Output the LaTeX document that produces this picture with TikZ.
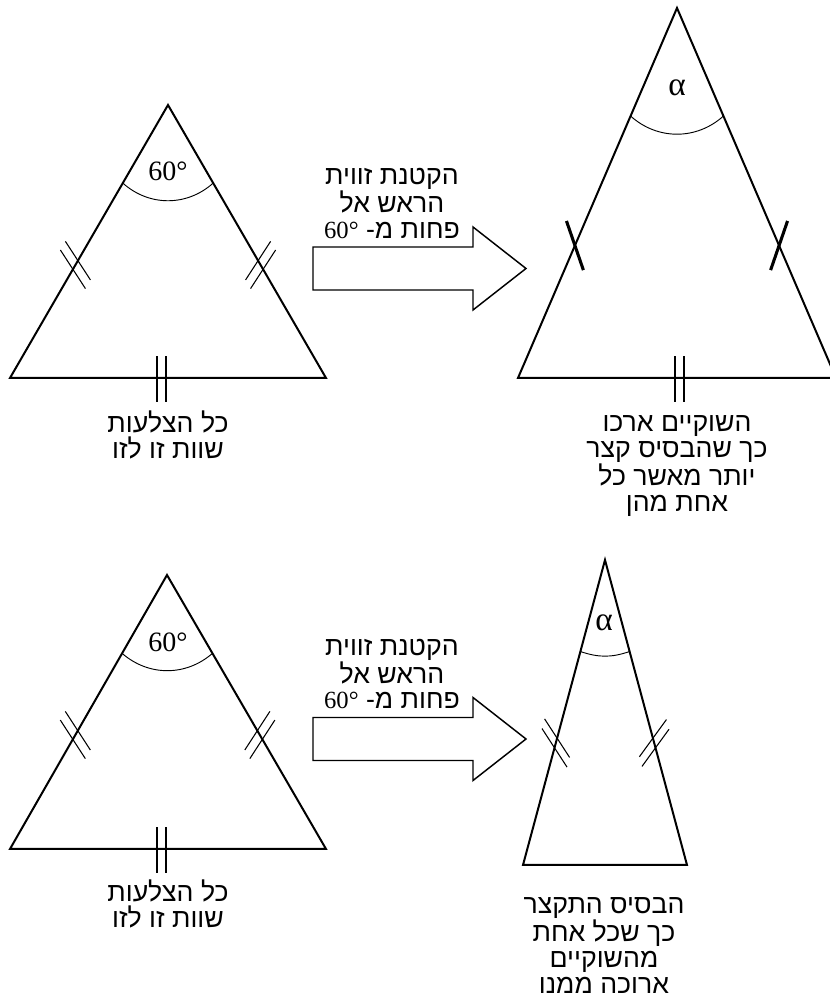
\documentclass[tikz,border=0pt]{standalone}
\usepackage{fontspec}
\setmainfont{Liberation Serif}
\newfontfamily\hebfont[Script=Hebrew]{Liberation Sans}
\TeXXeTstate=1
\usetikzlibrary{calc}
\tikzset{
  tri/.style     ={line width=1.5pt, line join=miter},
  tickmark/.style={line width=0.8pt},
  boldtick/.style={line width=2.3pt},
  anglearc/.style={line width=0.7pt},
  blockarr/.style={line width=1.1pt, line join=miter},
  heb/.style     ={font=\hebfont\fontsize{20}{19.3}\selectfont,
                   align=center, inner sep=0pt},
  anglelbl/.style={font=\fontsize{21}{24}\selectfont, inner sep=0pt},
  alphalbl/.style={font=\fontsize{25}{28}\selectfont, inner sep=0pt},
}
% two short parallel marks across a side
\newcommand\dticks[3]{%
  \foreach \s in {-5,5}
    \draw[tickmark] ($(#1)+(#2:\s)+(#3:-23)$) -- ++(#3:46);}
\newcommand\degsixty{{\rmfamily\fontsize{18.5}{19}\selectfont\beginL 60°\endL}}

\begin{document}
\begin{tikzpicture}[x=0.75pt,y=0.75pt]
  \useasboundingbox (0,0) rectangle (829,1003);
  %% top left: equilateral triangle
  \coordinate (a1) at (168,898);
  \coordinate (b1) at (10,625);
  \coordinate (c1) at (326,625);
  \draw[tri] (a1) -- (b1) -- (c1) -- cycle;
  \draw[anglearc] ($(a1)!0.286!(b1)$) to[bend right=42] ($(a1)!0.286!(c1)$);
  \node[anglelbl] (ang1) at (168,832) {60°};
  \coordinate (m1l) at ($(b1)!0.414!(a1)$);
  \coordinate (m1r) at ($(c1)!0.414!(a1)$);
  \dticks{m1l}{60}{-57}
  \dticks{m1r}{120}{57}
  \foreach \x in {157,166} \draw[tickmark] (\x,601) -- (\x,647);
  \node[heb] (txt1) at (168,568) {\beginR כל הצלעות\endR\\ \beginR שוות זו לזו\endR};

  %% top arrow
  \draw[blockarr] (313,713) -- (313,756) -- (473,756) -- (473,776)
    -- (526,734.5) -- (473,693) -- (473,713) -- cycle;
  \node[heb] (arr1) at (392,799.5) {\beginR הקטנת זווית\endR\\
    \beginR הראש אל\endR\\ \beginR פחות מ- \degsixty\endR};

  %% top right: long legs
  \coordinate (a2) at (677,995);
  \coordinate (b2) at (518,625);
  \coordinate (c2) at (836,625);
  \draw[tri] (a2) -- (b2) -- (c2) -- cycle;
  \draw[anglearc] ($(a2)!0.292!(b2)$) to[bend right=42] ($(a2)!0.292!(c2)$);
  \node[alphalbl] (ang2) at (677,915) {α};
  \coordinate (m2l) at ($(b2)!0.358!(a2)$);
  \coordinate (m2r) at ($(c2)!0.358!(a2)$);
  \draw[boldtick] ($(m2l)+(-71:-26)$) -- ++(-71:52);
  \draw[boldtick] ($(m2r)+(251:-26)$) -- ++(251:52);
  \foreach \x in {675,684} \draw[tickmark] (\x,601) -- (\x,647);
  \node[heb] (txt2) at (677,537) {\beginR השוקיים ארכו\endR\\
    \beginR כך שהבסיס קצר\endR\\ \beginR יותר מאשר כל\endR\\ \beginR אחת מהן\endR};

  %% bottom left: equilateral triangle
  \coordinate (a3) at (167,428);
  \coordinate (b3) at (10,154);
  \coordinate (c3) at (326,154);
  \draw[tri] (a3) -- (b3) -- (c3) -- cycle;
  \draw[anglearc] ($(a3)!0.286!(b3)$) to[bend right=41] ($(a3)!0.286!(c3)$);
  \node[anglelbl] (ang3) at (168,361) {60°};
  \coordinate (m3l) at ($(b3)!0.416!(a3)$);
  \coordinate (m3r) at ($(c3)!0.416!(a3)$);
  \dticks{m3l}{60}{-57}
  \dticks{m3r}{120}{57}
  \foreach \x in {157,166} \draw[tickmark] (\x,130) -- (\x,176);
  \node[heb] (txt3) at (168,99) {\beginR כל הצלעות\endR\\ \beginR שוות זו לזו\endR};

  %% bottom arrow
  \draw[blockarr] (313,242.5) -- (313,285.5) -- (473,285.5) -- (473,305.5)
    -- (526,264) -- (473,222.5) -- (473,242.5) -- cycle;
  \node[heb] (arr2) at (392,329) {\beginR הקטנת זווית\endR\\
    \beginR הראש אל\endR\\ \beginR פחות מ- \degsixty\endR};

  %% bottom right: short base
  \coordinate (a4) at (605,443);
  \coordinate (b4) at (523,138);
  \coordinate (c4) at (687,138);
  \draw[tri] (a4) -- (b4) -- (c4) -- cycle;
  \draw[anglearc] ($(a4)!0.30!(b4)$) to[bend right=19] ($(a4)!0.30!(c4)$);
  \node[alphalbl] (ang4) at (604,380) {α};
  \coordinate (m4l) at ($(b4)!0.40!(a4)$);
  \coordinate (m4r) at ($(c4)!0.40!(a4)$);
  \dticks{m4l}{75}{-57}
  \dticks{m4r}{105}{54}
  \node[heb] (txt4) at (604,57.5) {\beginR הבסיס התקצר\endR\\
    \beginR כך שכל אחת\endR\\ \beginR מהשוקיים\endR\\ \beginR ארוכה ממנו\endR};
\end{tikzpicture}
\end{document}
